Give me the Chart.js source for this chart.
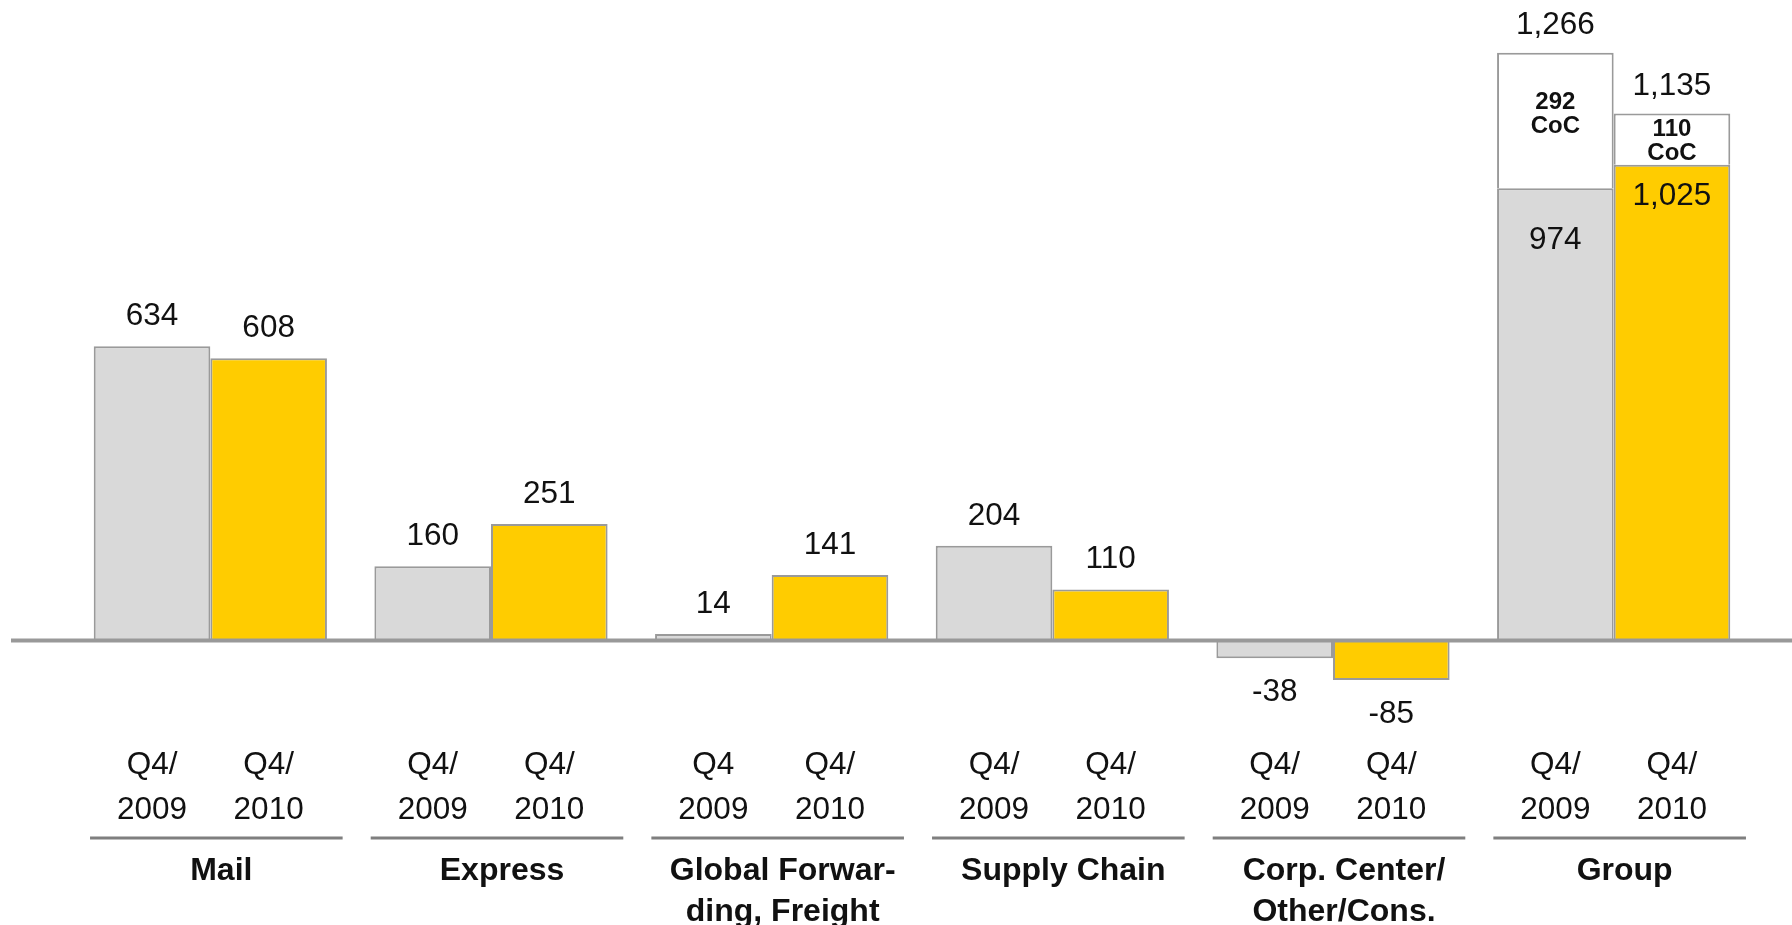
<!DOCTYPE html>
<html>
<head>
<meta charset="utf-8">
<script src="https://cdn.jsdelivr.net/npm/chart.js@4.4.1/dist/chart.umd.min.js"></script>
<style>
  html, body { margin: 0; background: #fff; }
  #wrap { width: 1792px; height: 925px; }
</style>
</head>
<body>
<div id="wrap"><canvas id="chart"></canvas></div>
<script>
// EBIT by division, Q4/2009 vs Q4/2010 (EUR m)
const divisions = [['Mail'], ['Express'], ['Global Forwar-', 'ding, Freight'], ['Supply Chain'], ['Corp. Center/', 'Other/Cons.'], ['Group']];
const periodTop2009 = ['Q4/', 'Q4/', 'Q4', 'Q4/', 'Q4/', 'Q4/'];
const periodTop2010 = ['Q4/', 'Q4/', 'Q4/', 'Q4/', 'Q4/', 'Q4/'];
const periodYears = ['2009', '2010'];
const ebit2009 = [634, 160, 14, 204, -38, 974];
const ebit2010 = [608, 251, 141, 110, -85, 1025];
const coc2009 = [null, null, null, null, null, 292];
const coc2010 = [null, null, null, null, null, 110];
const cocLabel = 'CoC';

const FONT = "'Liberation Sans', Arial, sans-serif";
const fmt = v => v.toLocaleString('en-US');

const labelsPlugin = {
  id: 'labels',
  afterDatasetsDraw(chart) {
    const { ctx, chartArea, scales: { x, y } } = chart;
    const y0 = y.getPixelForValue(0);
    ctx.save();

    // zero line across the whole slide
    ctx.strokeStyle = '#999999';
    ctx.lineWidth = 4;
    ctx.beginPath();
    ctx.moveTo(11, y0);
    ctx.lineTo(chart.width, y0);
    ctx.stroke();

    ctx.textAlign = 'center';
    ctx.textBaseline = 'middle';
    ctx.fillStyle = '#111';

    // [values, coc values, meta index, coc meta index, inside label drop, coc text shift]
    const series = [[ebit2009, coc2009, 0, 2, 52, -6], [ebit2010, coc2010, 1, 3, 32, 2]];
    for (const [vals, coc, mi, ci, drop, shift] of series) {
      const meta = chart.getDatasetMeta(mi);
      const cmeta = chart.getDatasetMeta(ci);
      vals.forEach((v, i) => {
        const bar = meta.data[i];
        ctx.font = '31.5px ' + FONT;
        if (coc[i] != null) {
          const cbar = cmeta.data[i];
          ctx.fillText(fmt(v + coc[i]), bar.x, cbar.y - 27);
          ctx.fillText(fmt(v), bar.x, bar.y + drop);
          const mid = (cbar.y + bar.y) / 2 + shift;
          ctx.font = 'bold 24px ' + FONT;
          ctx.fillText(String(coc[i]), bar.x, mid - 12);
          ctx.fillText(cocLabel, bar.x, mid + 12);
        } else if (v >= 0) {
          ctx.fillText(fmt(v), bar.x, bar.y - 30);
        } else {
          ctx.fillText(fmt(v), bar.x, bar.y + 34);
        }
      });
    }

    // period labels under each bar, divider lines and division names
    const bottom = chartArea.bottom;
    const cw = x.getPixelForValue(1) - x.getPixelForValue(0);
    divisions.forEach((name, i) => {
      const b09 = chart.getDatasetMeta(0).data[i];
      const b10 = chart.getDatasetMeta(1).data[i];
      ctx.font = '31.5px ' + FONT;
      ctx.fillStyle = '#111';
      ctx.fillText(periodTop2009[i], b09.x, bottom + 78);
      ctx.fillText(periodTop2010[i], b10.x, bottom + 78);
      ctx.fillText(periodYears[0], b09.x, bottom + 123);
      ctx.fillText(periodYears[1], b10.x, bottom + 123);

      const cx = x.getPixelForValue(i);
      ctx.strokeStyle = '#7f7f7f';
      ctx.lineWidth = 3;
      ctx.beginPath();
      ctx.moveTo(cx + 6 - cw * 0.45, bottom + 151);
      ctx.lineTo(cx + 6 + cw * 0.45, bottom + 151);
      ctx.stroke();

      ctx.font = 'bold 32px ' + FONT;
      name.forEach((line, k) => ctx.fillText(line, cx + 11, bottom + 184 + k * 41));
    });
    ctx.restore();
  }
};

new Chart(document.getElementById('chart'), {
  type: 'bar',
  data: {
    labels: divisions.map(d => d.join(' ')),
    datasets: [
      { label: 'Q4/2009', data: ebit2009, stack: 's2009', backgroundColor: '#D9D9D9', borderColor: '#9a9a9a', borderWidth: 2 },
      { label: 'Q4/2010', data: ebit2010, stack: 's2010', backgroundColor: '#FFCC00', borderColor: '#9a9a9a', borderWidth: 2 },
      { label: 'CoC 2009', data: coc2009, stack: 's2009', backgroundColor: '#FFFFFF', borderColor: '#9a9a9a', borderWidth: 2 },
      { label: 'CoC 2010', data: coc2010, stack: 's2010', backgroundColor: '#FFFFFF', borderColor: '#9a9a9a', borderWidth: 2 }
    ]
  },
  options: {
    responsive: true,
    maintainAspectRatio: false,
    animation: false,
    layout: { padding: { top: 37, bottom: 238, left: 70, right: 38 } },
    datasets: { bar: { categoryPercentage: 0.831, barPercentage: 1 } },
    plugins: { legend: { display: false }, tooltip: { enabled: false } },
    scales: {
      x: { stacked: true, display: false },
      y: { stacked: true, display: false, min: -100, max: 1300 }
    }
  },
  plugins: [labelsPlugin]
});
</script>
</body>
</html>
